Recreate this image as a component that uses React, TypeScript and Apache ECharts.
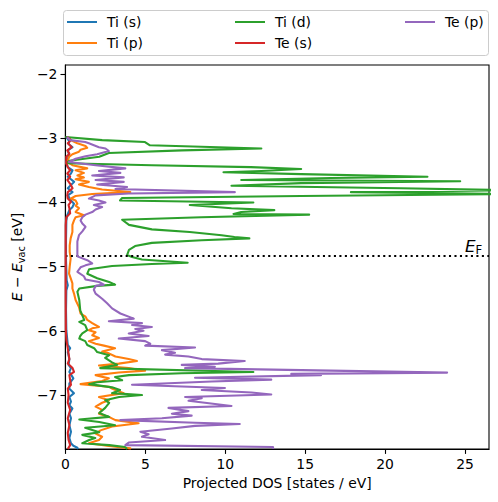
import React, { useEffect, useRef } from "react";
import * as echarts from "echarts";

// [energy (eV), projected DOS (states/eV)]
const tiS: [number, number][] = [
  [-2.98, 0.05], [-3.05, 0.25], [-3.09, 0.2], [-3.14, 0.45], [-3.19, 0.15], [-3.27, 0.25], [-3.32, 0.15], [-3.37, 0.05],
  [-3.45, 0.15], [-3.5, 0.45], [-3.55, 0.35], [-3.6, 0.15], [-3.68, 0.55], [-3.73, 0.35], [-3.78, 0.15], [-3.84, 0.45],
  [-3.89, 0.15], [-3.91, 0.2], [-3.97, 0.35], [-4.02, 0.54], [-4.07, 0.45], [-4.12, 0.25], [-4.2, 0.12], [-4.28, 0.06],
  [-4.59, 0.04], [-4.9, 0.04], [-5.05, 0.06], [-5.21, 0.08], [-5.29, 0.15], [-5.37, 0.06], [-5.68, 0.04], [-5.99, 0.06],
  [-6.14, 0.12], [-6.22, 0.15], [-6.27, 0.3], [-6.33, 0.15], [-6.44, 0.25], [-6.53, 0.2], [-6.58, 0.35], [-6.64, 0.25],
  [-6.74, 0.5], [-6.82, 0.25], [-6.9, 0.25], [-6.97, 0.54], [-7.03, 0.25], [-7.1, 0.35], [-7.16, 0.25], [-7.21, 0.44],
  [-7.29, 0.25], [-7.36, 0.35], [-7.47, 0.25], [-7.57, 0.35], [-7.67, 0.25], [-7.75, 0.35], [-7.79, 0.5], [-7.82, 0.75],
  [-7.84, 0.8],
];

const tiP: [number, number][] = [
  [-2.98, 0.1], [-3.03, 0.33], [-3.08, 0.75], [-3.12, 1.26], [-3.15, 1.37], [-3.18, 0.95], [-3.21, 0.85], [-3.25, 0.44],
  [-3.29, 0.23], [-3.37, 0.12], [-3.42, 0.44], [-3.47, 1.37], [-3.5, 0.64], [-3.54, 1.16], [-3.58, 0.75], [-3.61, 1.16],
  [-3.64, 0.64], [-3.68, 1.47], [-3.72, 0.85], [-3.76, 1.47], [-3.8, 2.3], [-3.84, 4.06], [-3.87, 1.68], [-3.9, 0.64],
  [-3.94, 0.33], [-3.97, 0.64], [-4.02, 0.75], [-4.05, 0.64], [-4.09, 0.85], [-4.15, 0.64], [-4.2, 1.16], [-4.23, 0.64],
  [-4.28, 0.54], [-4.35, 0.44], [-4.46, 0.44], [-4.56, 0.33], [-4.67, 0.27], [-4.77, 0.27], [-4.87, 0.33], [-5.0, 0.27],
  [-5.11, 0.23], [-5.18, 0.33], [-5.26, 0.44], [-5.34, 0.44], [-5.42, 0.54], [-5.52, 0.64], [-5.63, 0.85], [-5.73, 0.95],
  [-5.78, 1.26], [-5.83, 1.37], [-5.88, 1.68], [-5.94, 2.1], [-5.96, 1.68], [-5.99, 1.47], [-6.02, 1.89], [-6.07, 1.68],
  [-6.11, 2.1], [-6.16, 1.47], [-6.2, 1.89], [-6.23, 2.41], [-6.27, 3.11], [-6.32, 2.3], [-6.35, 2.72], [-6.4, 3.13],
  [-6.44, 3.96], [-6.47, 4.48], [-6.51, 3.34], [-6.54, 2.1], [-6.58, 3.96], [-6.62, 4.99], [-6.65, 3.34], [-6.69, 1.89],
  [-6.74, 2.72], [-6.78, 2.3], [-6.83, 0.95], [-6.87, 2.72], [-6.9, 2.92], [-6.92, 3.13], [-6.97, 3.65], [-7.03, 2.1],
  [-7.08, 2.72], [-7.12, 2.3], [-7.18, 1.89], [-7.23, 2.3], [-7.29, 2.1], [-7.34, 2.72], [-7.39, 3.13], [-7.44, 4.58],
  [-7.49, 2.92], [-7.55, 2.2], [-7.6, 1.89], [-7.65, 2.3], [-7.7, 2.1], [-7.75, 1.47], [-7.79, 2.6], [-7.83, 4.06],
  [-7.84, 4.1],
];

const tiD: [number, number][] = [
  [-2.98, 0], [-3.03, 2.3], [-3.06, 4.98], [-3.11, 5.29], [-3.16, 12.26], [-3.19, 7.28], [-3.23, 2.72], [-3.29, 2.12],
  [-3.35, 0.25], [-3.39, 0.06], [-3.42, 5.4], [-3.45, 11.6], [-3.48, 14.75], [-3.51, 12.26], [-3.53, 9.89], [-3.56, 14.75],
  [-3.6, 22.65], [-3.62, 16.61], [-3.65, 11.0], [-3.67, 24.7], [-3.7, 14.75], [-3.74, 10.39], [-3.78, 20.97], [-3.81, 28],
  [-3.84, 17.86], [-3.87, 28], [-3.9, 14.75], [-3.93, 3.55], [-3.97, 3.42], [-4.0, 11.76], [-4.04, 7.78], [-4.09, 10.39],
  [-4.12, 13.07], [-4.15, 11.0], [-4.18, 10.52], [-4.19, 15.25], [-4.23, 8.5], [-4.27, 3.55], [-4.35, 3.98], [-4.42, 5.41],
  [-4.46, 7.78], [-4.51, 9.77], [-4.54, 10.58], [-4.56, 11.51], [-4.59, 8.53], [-4.63, 5.41], [-4.68, 4.36], [-4.74, 3.98],
  [-4.82, 3.86], [-4.85, 4.17], [-4.89, 4.79], [-4.94, 7.65], [-4.96, 5.41], [-4.99, 2.92], [-5.04, 1.49], [-5.11, 1.37],
  [-5.18, 1.99], [-5.24, 2.74], [-5.28, 3.11], [-5.3, 1.99], [-5.34, 0.87], [-5.39, 0.75], [-5.52, 0.87], [-5.68, 0.93],
  [-5.76, 1.06], [-5.83, 1.18], [-5.86, 0.87], [-5.91, 1.24], [-5.99, 1.37], [-6.04, 1.06], [-6.08, 0.93], [-6.12, 0.87],
  [-6.16, 1.24], [-6.22, 1.37], [-6.27, 1.8], [-6.33, 1.99], [-6.38, 2.74], [-6.42, 2.49], [-6.49, 2.92], [-6.53, 3.24],
  [-6.58, 2.18], [-6.64, 11.76], [-6.66, 7.28], [-6.69, 3.98], [-6.72, 3.11], [-6.77, 3.55], [-6.8, 1.99], [-6.83, 1.49],
  [-6.88, 2.92], [-6.92, 3.42], [-6.97, 2.92], [-7.0, 4.79], [-7.03, 3.36], [-7.08, 2.49], [-7.12, 2.74], [-7.2, 2.49],
  [-7.28, 2.12], [-7.34, 2.74], [-7.38, 0.87], [-7.42, 2.12], [-7.47, 3.11], [-7.51, 1.24], [-7.58, 2.12], [-7.62, 1.06],
  [-7.67, 1.87], [-7.7, 1.49], [-7.75, 1.06], [-7.78, 2.74], [-7.81, 3.73], [-7.84, 3.86],
];

const teS: [number, number][] = [
  [-2.98, 0.1], [-3.03, 0.35], [-3.08, 0.15], [-3.14, 0.4], [-3.19, 0.12], [-3.24, 0.25], [-3.29, 0.06], [-3.39, 0.05],
  [-3.45, 0.15], [-3.5, 0.3], [-3.55, 0.12], [-3.6, 0.3], [-3.65, 0.12], [-3.71, 0.3], [-3.78, 0.45], [-3.84, 0.15],
  [-3.89, 0.12], [-3.94, 0.15], [-3.99, 0.35], [-4.04, 0.2], [-4.09, 0.25], [-4.17, 0.3], [-4.23, 0.06], [-4.35, 0.02],
  [-4.9, 0.02], [-5.52, 0.02], [-5.99, 0.03], [-6.14, 0.06], [-6.27, 0.15], [-6.44, 0.25], [-6.51, 0.15], [-6.58, 0.45],
  [-6.64, 0.54], [-6.69, 0.25], [-6.77, 0.3], [-6.84, 0.35], [-6.9, 0.15], [-7.0, 0.2], [-7.12, 0.15], [-7.23, 0.3],
  [-7.36, 0.15], [-7.47, 0.25], [-7.59, 0.15], [-7.7, 0.2], [-7.78, 0.3], [-7.84, 0.15],
];

const teP: [number, number][] = [
  [-2.98, 0.1], [-3.03, 0.3], [-3.06, 1.24], [-3.08, 1.47], [-3.14, 2.1], [-3.16, 2.51], [-3.2, 2.72], [-3.25, 1.99],
  [-3.28, 1.26], [-3.32, 0.64], [-3.37, 0.23], [-3.42, 1.89], [-3.47, 3.75], [-3.51, 2.1], [-3.54, 3.44], [-3.58, 1.68],
  [-3.61, 3.65], [-3.65, 1.89], [-3.68, 3.65], [-3.72, 1.99], [-3.76, 3.86], [-3.79, 3.13], [-3.84, 10.6], [-3.86, 3.96],
  [-3.89, 1.89], [-3.94, 1.47], [-3.97, 2.1], [-4.0, 2.51], [-4.04, 1.78], [-4.07, 2.3], [-4.11, 1.89], [-4.15, 1.68],
  [-4.19, 1.26], [-4.23, 1.06], [-4.28, 0.95], [-4.33, 1.06], [-4.38, 1.26], [-4.45, 1.06], [-4.51, 0.85], [-4.61, 0.75],
  [-4.72, 0.75], [-4.84, 0.75], [-4.9, 1.37], [-4.95, 1.68], [-4.98, 1.26], [-5.01, 0.95], [-5.08, 0.75], [-5.15, 1.16],
  [-5.2, 1.26], [-5.24, 2.1], [-5.28, 2.41], [-5.3, 1.89], [-5.36, 1.78], [-5.42, 1.89], [-5.5, 2.3], [-5.57, 2.61],
  [-5.65, 2.92], [-5.73, 3.44], [-5.81, 4.28], [-5.85, 2.72], [-5.88, 4.79], [-5.91, 4.17], [-5.94, 5.41], [-5.97, 4.37],
  [-6.0, 4.89], [-6.04, 3.96], [-6.08, 5.21], [-6.12, 3.34], [-6.16, 4.99], [-6.2, 5.31], [-6.23, 4.99], [-6.26, 8.11],
  [-6.3, 6.04], [-6.34, 6.86], [-6.37, 6.24], [-6.4, 7.7], [-6.44, 8.53], [-6.47, 11.22], [-6.51, 9.56], [-6.53, 7.28],
  [-6.56, 9.35], [-6.58, 7.49], [-6.65, 23.88], [-6.67, 14.13], [-6.69, 15.99], [-6.73, 8.11], [-6.76, 12.88], [-6.79, 9.15],
  [-6.84, 4.17], [-6.89, 9.98], [-6.92, 8.53], [-6.96, 11.64], [-6.99, 12.88], [-7.03, 7.49], [-7.05, 8.53], [-7.09, 7.7],
  [-7.17, 10.39], [-7.2, 6.45], [-7.25, 7.7], [-7.29, 6.66], [-7.32, 7.9], [-7.36, 6.04], [-7.39, 3.44], [-7.43, 8.11],
  [-7.45, 10.91], [-7.48, 8.11], [-7.52, 6.66], [-7.57, 4.69], [-7.61, 5.21], [-7.65, 4.79], [-7.7, 6.24], [-7.74, 3.96],
  [-7.78, 3.75], [-7.81, 12.99], [-7.84, 13.0],
];

const seriesNames = ["Ti (s)", "Ti (p)", "Ti (d)", "Te (s)", "Te (p)"];
const seriesList = [tiS, tiP, tiD, teS, teP];
const colors = ["#1f77b4", "#ff7f0e", "#2ca02c", "#d62728", "#9467bd"];
const fermiLevel = -4.83;
const xTicks = [0, 5, 10, 15, 20, 25];
const yTicks = [-7, -6, -5, -4, -3, -2];

const FONT = "DejaVu Sans";
const LW = 2.08; // 1.5 pt at 100 dpi
const SPINE = 1.1;

export default function App() {
  const ref = useRef<HTMLDivElement>(null);

  useEffect(() => {
    if (!ref.current) return;
    const chart = echarts.init(ref.current, undefined, { renderer: "svg" });

    const legendCommon = {
      orient: "vertical" as const,
      top: 9,
      padding: 5,
      itemWidth: 30,
      itemHeight: 2,
      itemGap: 5,
      icon: "rect",
      textStyle: { fontFamily: FONT, fontSize: 13.9, color: "#000", lineHeight: 16, padding: [0, 0, 0, 5] },
      z: 10,
    };

    const option: any = {
      animation: false,
      backgroundColor: "#fff",
      textStyle: { fontFamily: FONT },
      grid: {
        left: 63,
        right: 9,
        top: 65,
        bottom: 53,
        show: true,
        borderColor: "#000",
        borderWidth: SPINE,
        backgroundColor: "transparent",
      },
      legend: [
        { ...legendCommon, left: 62, data: ["Ti (s)", "Ti (p)"] },
        { ...legendCommon, left: 230, data: ["Ti (d)", "Te (s)"] },
        { ...legendCommon, left: 400, data: ["Te (p)"] },
      ],
      graphic: [
        {
          type: "rect",
          z: 0,
          shape: { x: 63.5, y: 10.5, width: 425, height: 45, r: 3 },
          style: { fill: "#fff", stroke: "#cccccc", lineWidth: 1 },
        },
        {
          type: "text",
          z: 20,
          x: 465,
          y: 236,
          style: {
            text: "{e|E}{f|F}",
            rich: {
              e: { fontFamily: FONT, fontStyle: "italic", fontSize: 16.7, fill: "#000", lineHeight: 20, verticalAlign: "middle" },
              f: { fontFamily: FONT, fontSize: 11.7, fill: "#000", lineHeight: 13, verticalAlign: "bottom" },
            },
          },
        },
      ],
      xAxis: {
        type: "value",
        min: 0,
        max: 26.5,
        name: "Projected DOS [states / eV]",
        nameLocation: "middle",
        nameGap: 27,
        nameTextStyle: { fontFamily: FONT, fontSize: 13.9, color: "#000" },
        splitLine: { show: false },
        axisLine: { show: true, onZero: false, lineStyle: { color: "#000", width: SPINE } },
        axisTick: { show: true, inside: false, length: 4.9, customValues: xTicks, lineStyle: { color: "#000", width: SPINE } },
        axisLabel: { customValues: xTicks, margin: 8, color: "#000", fontSize: 13.9, fontFamily: FONT },
      },
      yAxis: {
        type: "value",
        min: -7.84,
        max: -1.86,
        name: "{it|E} − {it|E}{sub|vac} [eV]",
        nameLocation: "middle",
        nameRotate: 90,
        nameGap: 38,
        nameTextStyle: {
          fontFamily: FONT,
          fontSize: 13.9,
          color: "#000",
          lineHeight: 18,
          rich: {
            it: { fontFamily: FONT, fontStyle: "italic", fontSize: 13.9, color: "#000", lineHeight: 18, verticalAlign: "middle" },
            sub: { fontFamily: FONT, fontSize: 9.7, color: "#000", lineHeight: 11, verticalAlign: "bottom" },
          },
        },
        splitLine: { show: false },
        axisLine: { show: true, onZero: false, lineStyle: { color: "#000", width: SPINE } },
        axisTick: { show: true, inside: false, length: 4.9, customValues: yTicks, lineStyle: { color: "#000", width: SPINE } },
        axisLabel: {
          customValues: yTicks,
          margin: 8,
          color: "#000",
          fontSize: 13.9,
          fontFamily: FONT,
          formatter: (v: number) => String(v).replace("-", "\u2212"),
        },
      },
      series: seriesList.map((pts, i) => {
        const s: any = {
          name: seriesNames[i],
          type: "line",
          data: pts.map(([e, d]) => [d, e]),
          showSymbol: false,
          symbol: "none",
          clip: true,
          z: 2 + i,
          lineStyle: { color: colors[i], width: LW, join: "round" },
          itemStyle: { color: colors[i] },
        };
        if (i === seriesList.length - 1) {
          s.markLine = {
            silent: true,
            symbol: ["none", "none"],
            label: { show: false },
            lineStyle: { color: "#000", type: [2.08, 3.4], width: LW, cap: "butt" },
            data: [{ yAxis: fermiLevel }],
          };
        }
        return s;
      }),
    };

    chart.setOption(option);
    return () => chart.dispose();
  }, []);

  return (
    <div
      ref={ref}
      style={{ position: "fixed", left: 0, top: 0, width: 498, height: 502, background: "#fff" }}
    />
  );
}
